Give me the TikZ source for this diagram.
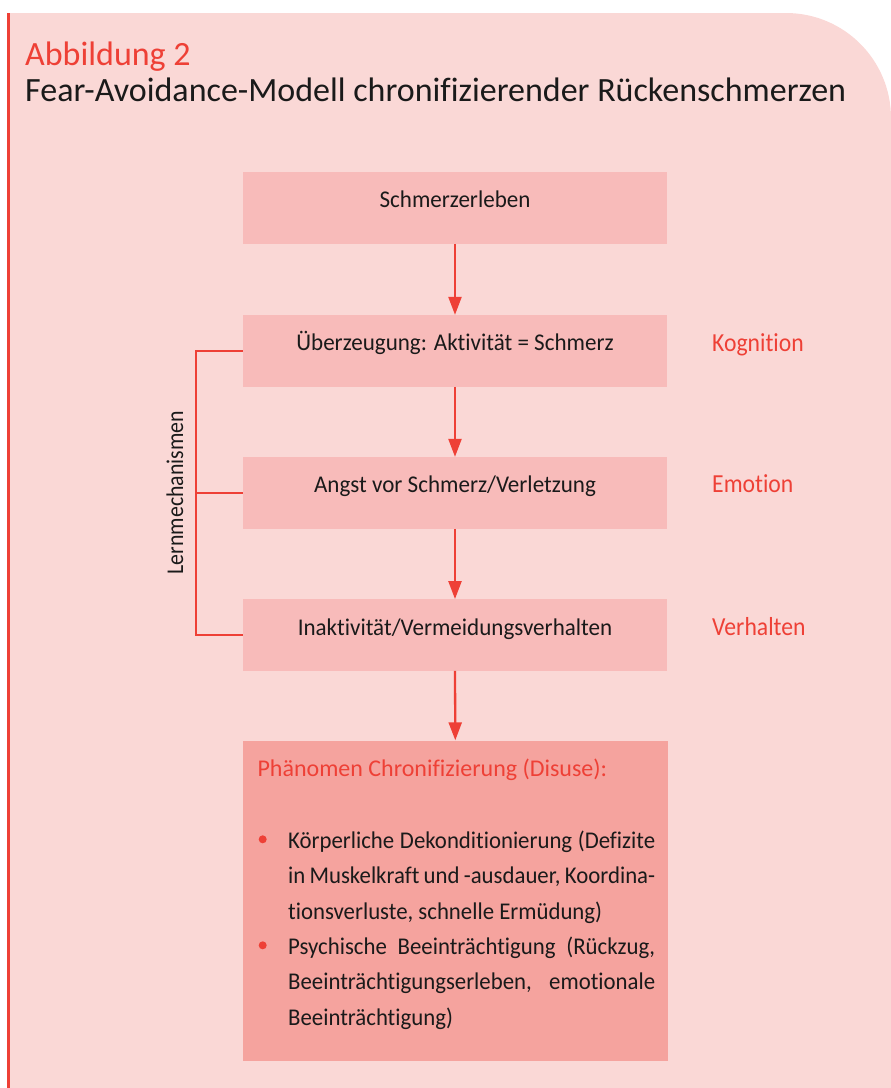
\documentclass[tikz,border=0pt]{standalone}
\usepackage{fontspec}
\setmainfont{Carlito}[Ligatures=NoCommon]
\newfontfamily\boxfont{Carlito}[Ligatures=NoCommon, FakeStretch=0.96]
\newfontfamily\labelfont{Carlito}[Ligatures=NoCommon, FakeStretch=0.91]
\newfontfamily\bodyfont{Carlito}[Ligatures=NoCommon, FakeStretch=0.95]
\usetikzlibrary{arrows.meta}

\definecolor{bgpink}{HTML}{FAD8D6}
\definecolor{boxpink}{HTML}{F8BBBA}
\definecolor{darkpink}{HTML}{F5A39E}
\definecolor{figred}{HTML}{EE4036}
\definecolor{textblack}{HTML}{1A1A1A}

\begin{document}
\begin{tikzpicture}[x=1pt, y=-1pt,
        stage/.style={rectangle, fill=boxpink, minimum width=424pt, minimum height=71.5pt, inner sep=0pt, text height=0pt, text depth=0pt, text=textblack, font=\boxfont\fontsize{24}{28}\selectfont},
        outcome/.style={rectangle, fill=darkpink, minimum width=425pt, minimum height=320pt, inner sep=0pt},
        dimension/.style={anchor=base west, inner sep=0pt, text=figred, font=\labelfont\fontsize{26}{30}\selectfont},
        bullettext/.style={anchor=base west, inner sep=0pt, text width=367pt, align=justify, text=textblack, font=\bodyfont\fontsize{24}{35.5}\selectfont},
        bulletdot/.style={circle, fill=figred, minimum size=8pt, inner sep=0pt},
        arrow/.style={-{Triangle[width=13pt, length=18pt]}, line width=2.3pt, draw=figred},
        bracket/.style={line width=2.3pt, draw=figred}
    ]
    \useasboundingbox (0,0) rectangle (891,1088);

    % Background panel
    \fill[bgpink] (7,1088) -- (7,13) -- (786,13) arc[start angle=-90, end angle=0, radius=105] -- (891,1088) -- cycle;
    \draw[figred, line width=2.5pt] (8.7,13) -- (8.7,1088);

    % Title
    \node[anchor=base west, inner sep=0pt, text=figred, font=\fontsize{34}{40}\selectfont] (fignum) at (25,65.7) {Abbildung 2};
    \node[anchor=base west, inner sep=0pt, text=textblack, font=\fontsize{34}{40}\selectfont] (figtitle) at (25,101.7) {Fear-Avoidance-Modell chronifizierender Rückenschmerzen};

    % Stages
    \node[stage] (schmerz) at (455,207.8) {Schmerzerleben};
    \node[stage] (ueberz) at (455,350.8) {Überzeugung: Aktivität = Schmerz};
    \node[stage] (angst) at (455,492.8) {Angst vor Schmerz/Verletzung};
    \node[stage] (inakt) at (455,635) {Inaktivität/Vermeidungsverhalten};

    % Dimensions
    \node[dimension] (kogn) at (712,351.7) {Kognition};
    \node[dimension] (emot) at (712,492.7) {Emotion};
    \node[dimension] (verh) at (712,635) {Verhalten};

    % Outcome block
    \node[outcome] (phaen) at (455.3,900.5) {};
    \node[anchor=base west, inner sep=0pt, text=figred, font=\fontsize{24}{28}\selectfont] (phaenhead) at (257.3,776.7) {Phänomen Chronifizierung (Disuse):};
    \node[bulletdot] (dotA) at (262.7,839.3) {};
    \node[bullettext] (itemA) at (288,848.3) {Körperliche Dekonditionierung (Defizite\linebreak in Muskelkraft und -ausdauer, Koordina-\linebreak tionsverluste, schnelle Ermüdung)};
    \node[bulletdot] (dotB) at (262.7,945.3) {};
    \node[bullettext] (itemB) at (288,954.3) {Psychische Beeinträchtigung (Rückzug,\linebreak Beeinträchtigungserleben, emotionale\linebreak Beeinträchtigung)};

    % Arrows
    \draw[arrow] (schmerz.south) -- (ueberz.north);
    \draw[arrow] (ueberz.south) -- (angst.north);
    \draw[arrow] (angst.south) -- (inakt.north);
    \draw[arrow] (inakt.south) -- (phaen.north);

    % Learning bracket
    \draw[bracket] (ueberz.west) -- ++(-47,0) coordinate (brtop) |- (inakt.west);
    \draw[bracket] (angst.west) -- ++(-47,0);
    \node[rotate=90, anchor=base, inner sep=0pt, text=textblack, font=\labelfont\fontsize{24}{28}\selectfont] (lern) at (183,492.5) {Lernmechanismen};

\end{tikzpicture}
\end{document}
